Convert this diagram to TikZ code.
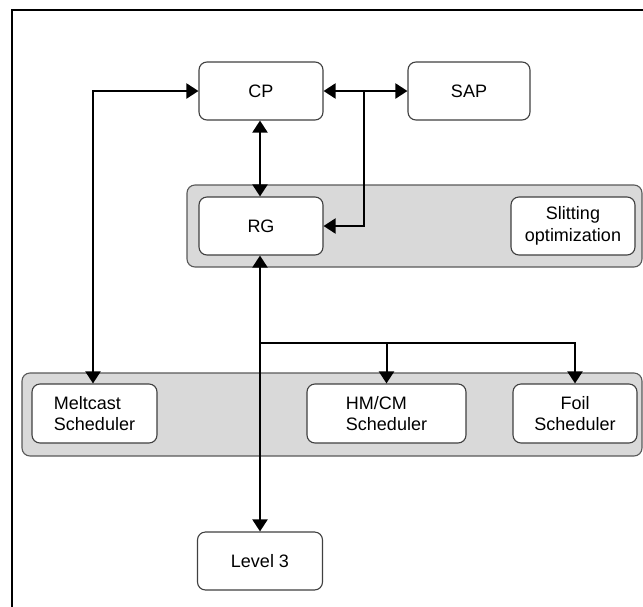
\documentclass[tikz,border=0pt]{standalone}
\usepackage{fontspec}
\setmainfont{Liberation Sans}
\usetikzlibrary{arrows.meta}
\begin{document}
\begin{tikzpicture}[x=1pt,y=-1pt,
  every node/.style={font=\fontsize{18}{21.5}\selectfont},
  unit/.style={draw=black!75,line width=1.1pt,fill=white,rounded corners=8pt,
    minimum height=58pt,inner sep=2pt},
  band/.style={draw=black!65,line width=1.1pt,fill=black!15,rounded corners=8pt},
  tip/.tip={Triangle[width=15pt,length=12pt]},
  arr/.style={line width=2pt,-tip},
  biarr/.style={line width=2pt,tip-tip}]
  \useasboundingbox (0,0) rectangle (643,606);
  % outer frame, running past the right and bottom edges
  \draw[line width=2pt] (12,10) rectangle (700,700);
  % grey group bands
  \draw[band] (187,185) rectangle (642,267);
  \draw[band] (22,373) rectangle (642,456);
  % units
  \node[unit,minimum width=124pt] (CP) at (261,91) {CP};
  \node[unit,minimum width=122pt] (SAP) at (469,91) {SAP};
  \node[unit,minimum width=124pt] (RG) at (261,226) {RG};
  \node[unit,minimum width=124pt,align=center] (SO) at (573,226) {Slitting\\optimization};
  \node[unit,minimum width=125pt,minimum height=59pt,align=left] (MS) at (94.5,413.5) {Meltcast\\Scheduler};
  \node[unit,minimum width=159pt,minimum height=59pt,align=left] (HC) at (386.5,413.5) {HM/CM\\Scheduler};
  \node[unit,minimum width=124pt,minimum height=59pt,align=center] (FS) at (575,413.5) {Foil\\Scheduler};
  \node[unit,minimum width=125pt] (L3) at (260,561) {Level 3};
  % junction points
  \coordinate (j1) at (364,91);
  \coordinate (j2) at (260,343);
  % connectors
  \draw[biarr] (CP.south -| 260,0) -- (RG.north -| 260,0);
  \draw[biarr] (RG.south -| 260,0) -- (L3.north -| 260,0);
  \draw[biarr] (CP.east) -- (SAP.west);
  \draw[arr] (j1) |- (RG.east);
  \draw[biarr] (MS.north -| 93,0) |- (CP.west);
  \draw[arr] (j2) -| (HC.north);
  \draw[arr] (j2) -| (FS.north);
\end{tikzpicture}
\end{document}
